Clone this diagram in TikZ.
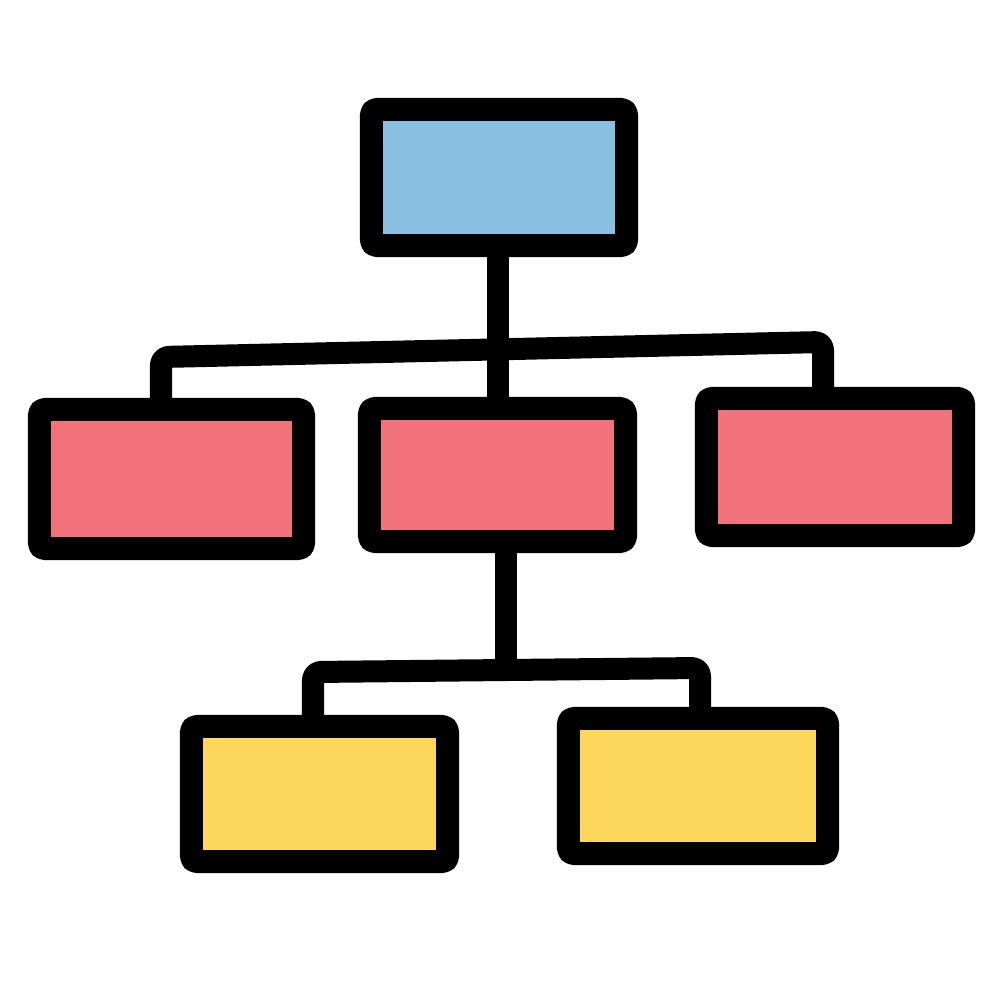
\documentclass[tikz,border=0pt]{standalone}
\usetikzlibrary{backgrounds}
\definecolor{boxblue}{HTML}{89BFE0}
\definecolor{boxred}{HTML}{F2727C}
\definecolor{boxyellow}{HTML}{FDD75C}
\tikzset{
  orgbox/.style={draw=black, line width=0.23cm, rounded corners=0.05cm,
    line join=round, inner sep=0pt, outer sep=0pt},
  link/.style={draw=black, line width=0.22cm, line cap=round, line join=round, rounded corners=0.08cm}
}
\begin{document}
\begin{tikzpicture}[x=0.01cm,y=-0.01cm]
\useasboundingbox (0,0) rectangle (1000,1000);
% boxes
\node[orgbox, fill=boxblue, minimum width=2.55cm, minimum height=1.36cm] (top) at (499,177.5) {};
\node[orgbox, fill=boxred, minimum width=2.64cm, minimum height=1.39cm] (L) at (171.5,479) {};
\node[orgbox, fill=boxred, minimum width=2.56cm, minimum height=1.33cm] (C) at (497.5,475) {};
\node[orgbox, fill=boxred, minimum width=2.57cm, minimum height=1.37cm] (R) at (835,467) {};
\node[orgbox, fill=boxyellow, minimum width=2.56cm, minimum height=1.35cm] (BL) at (319.5,794) {};
\node[orgbox, fill=boxyellow, minimum width=2.59cm, minimum height=1.35cm] (BR) at (698,786) {};
% coordinates of bends
\coordinate (t0) at (498,350);
\coordinate (b1) at (161,357);
\coordinate (b2) at (823,342);
\coordinate (c0) at (506,670);
\coordinate (d1) at (313,672);
\coordinate (d2) at (700,668);
% connectors
\begin{scope}[on background layer]
\fill[white] (0,0) rectangle (1000,1000);
\draw[link] (top.south -| t0) -- (C.north -| t0);
\draw[link] (b1 |- L.north) -- (b1) -- (b2) -- (b2 |- R.north);
\draw[link] (C.south -| c0) -- (c0);
\draw[link] (d1 |- BL.north) -- (d1) -- (d2) -- (d2 |- BR.north);
\end{scope}
\end{tikzpicture}
\end{document}
